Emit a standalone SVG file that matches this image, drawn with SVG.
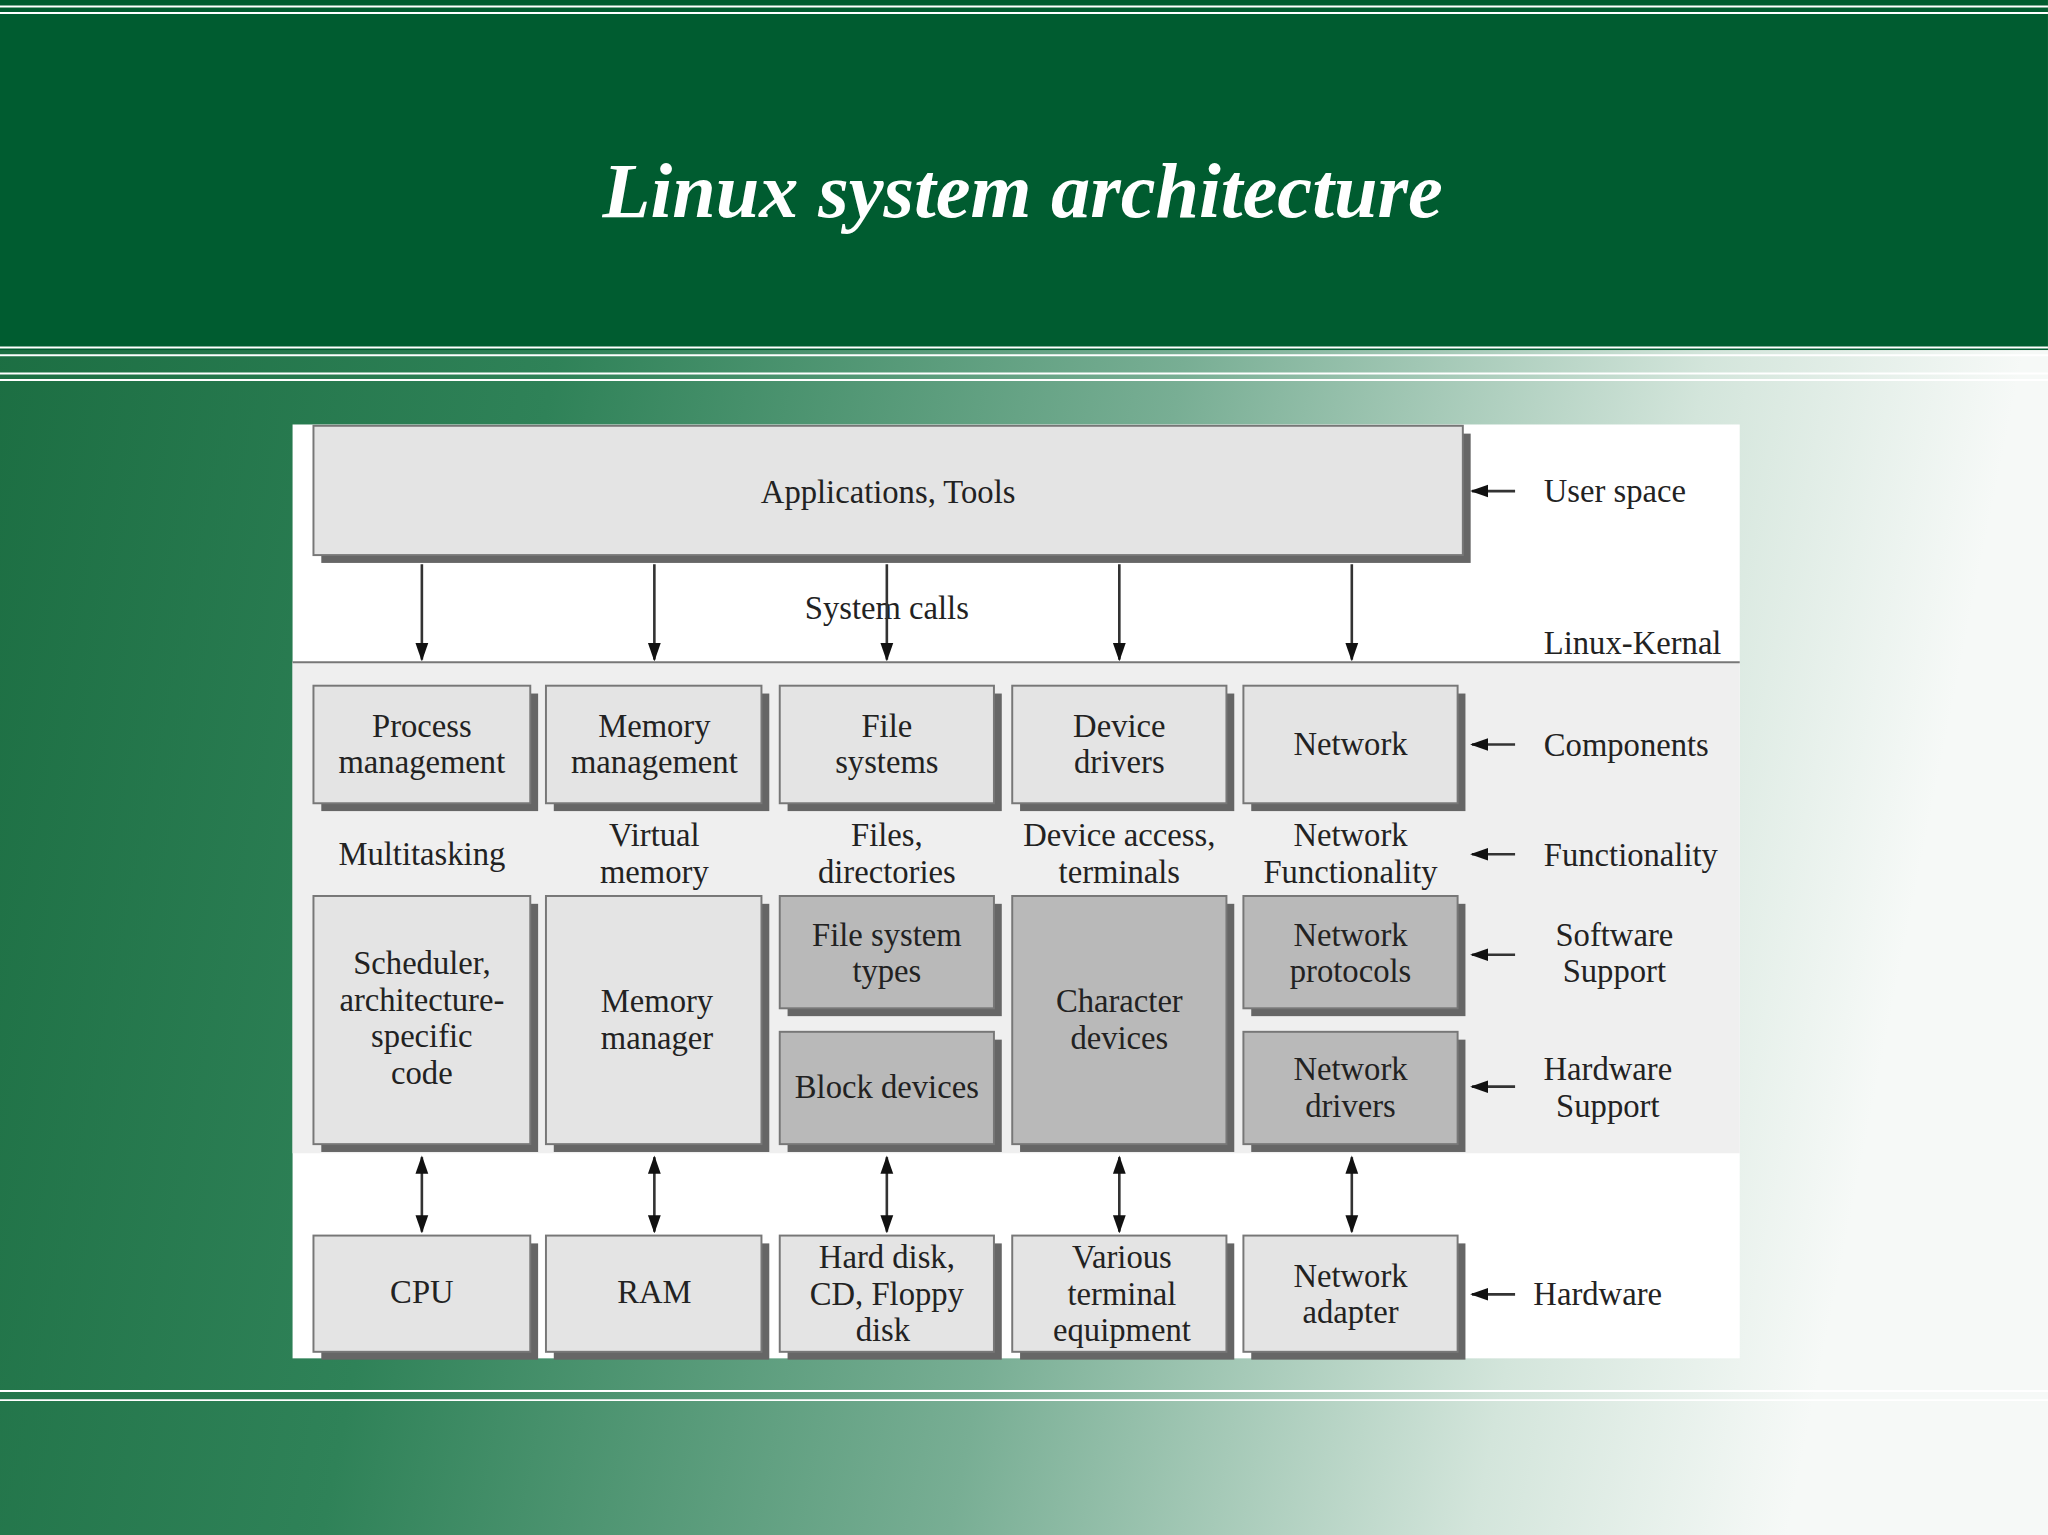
<svg xmlns="http://www.w3.org/2000/svg" width="2048" height="1535" viewBox="0 0 2048 1535">
<defs>
<linearGradient id="bg" x1="0" y1="0" x2="1" y2="0.15">
<stop offset="0" stop-color="#1a6c40"/><stop offset="0.3" stop-color="#2f8258"/><stop offset="0.6" stop-color="#78ae94"/><stop offset="0.85" stop-color="#d3e5db"/><stop offset="1" stop-color="#f6f9f7"/>
</linearGradient>
<marker id="ah2" viewBox="0 0 10 10" refX="9" refY="5" markerWidth="7" markerHeight="7" orient="auto-start-reverse"><path d="M0,1.5 L10,5 L0,8.5 z" fill="#111"/></marker>
<style>
.t{font-family:"Liberation Serif",serif;font-size:25px;fill:#222;text-anchor:middle}
.r{font-family:"Liberation Serif",serif;font-size:25px;fill:#222}
.b{fill:#e4e4e4;stroke:#777;stroke-width:1.5}
.d{fill:#b9b9b9;stroke:#777;stroke-width:1.5}
.sh{fill:#666}
.c line{stroke:#333;stroke-width:2}
</style>
</defs>
<g transform="scale(1.3061)">
<rect x="0" y="0" width="1568" height="1176" fill="url(#bg)"/>
<rect x="0" y="0" width="1568" height="268" fill="#005c30"/>
<g stroke="#fff" stroke-width="1.5" fill="none">
<line x1="0" y1="5" x2="1568" y2="5"/><line x1="0" y1="10" x2="1568" y2="10"/>
<line x1="0" y1="266" x2="1568" y2="266"/><line x1="0" y1="272" x2="1568" y2="272"/>
<line x1="0" y1="286" x2="1568" y2="286"/><line x1="0" y1="291" x2="1568" y2="291"/>
<line x1="0" y1="1065" x2="1568" y2="1065"/><line x1="0" y1="1072" x2="1568" y2="1072"/>
</g>
<text x="783" y="166" font-family="Liberation Serif,serif" font-size="60" font-style="italic" font-weight="bold" fill="#fff" text-anchor="middle">Linux system architecture</text>
<rect x="224" y="325" width="1108" height="715" fill="#fff"/>
<rect x="224" y="507" width="1108" height="376" fill="#efefef"/>
<line x1="224" y1="507" x2="1332" y2="507" stroke="#777" stroke-width="1.5"/>

<g id="apps"><rect class="sh" x="246" y="332" width="880" height="99"/><rect class="b" x="240" y="326" width="880" height="99"/><text class="t" x="680" y="385">Applications, Tools</text></g>

<g id="pm"><rect class="sh" x="246" y="531" width="166" height="90"/><rect class="b" x="240" y="525" width="166" height="90"/><text class="t" x="323" y="564">Process</text><text class="t" x="323" y="592">management</text></g>
<g id="mm"><rect class="sh" x="424" y="531" width="165" height="90"/><rect class="b" x="418" y="525" width="165" height="90"/><text class="t" x="501" y="564">Memory</text><text class="t" x="501" y="592">management</text></g>
<g id="fs"><rect class="sh" x="603" y="531" width="164" height="90"/><rect class="b" x="597" y="525" width="164" height="90"/><text class="t" x="679" y="564">File</text><text class="t" x="679" y="592">systems</text></g>
<g id="dd"><rect class="sh" x="781" y="531" width="164" height="90"/><rect class="b" x="775" y="525" width="164" height="90"/><text class="t" x="857" y="564">Device</text><text class="t" x="857" y="592">drivers</text></g>
<g id="net"><rect class="sh" x="958" y="531" width="164" height="90"/><rect class="b" x="952" y="525" width="164" height="90"/><text class="t" x="1034" y="578">Network</text></g>

<text class="t" x="323" y="662">Multitasking</text>
<text class="t" x="501" y="648">Virtual</text><text class="t" x="501" y="676">memory</text>
<text class="t" x="679" y="648">Files,</text><text class="t" x="679" y="676">directories</text>
<text class="t" x="857" y="648">Device access,</text><text class="t" x="857" y="676">terminals</text>
<text class="t" x="1034" y="648">Network</text><text class="t" x="1034" y="676">Functionality</text>

<g id="sched"><rect class="sh" x="246" y="692" width="166" height="190"/><rect class="b" x="240" y="686" width="166" height="190"/><text class="t" x="323" y="746">Scheduler,</text><text class="t" x="323" y="774">architecture-</text><text class="t" x="323" y="802">specific</text><text class="t" x="323" y="830">code</text></g>
<g id="mmgr"><rect class="sh" x="424" y="692" width="165" height="190"/><rect class="b" x="418" y="686" width="165" height="190"/><text class="t" x="503" y="775">Memory</text><text class="t" x="503" y="803">manager</text></g>
<g id="fst"><rect class="sh" x="603" y="692" width="164" height="86"/><rect class="d" x="597" y="686" width="164" height="86"/><text class="t" x="679" y="724">File system</text><text class="t" x="679" y="752">types</text></g>
<g id="blk"><rect class="sh" x="603" y="796" width="164" height="86"/><rect class="d" x="597" y="790" width="164" height="86"/><text class="t" x="679" y="841">Block devices</text></g>
<g id="chr"><rect class="sh" x="781" y="692" width="164" height="190"/><rect class="d" x="775" y="686" width="164" height="190"/><text class="t" x="857" y="775">Character</text><text class="t" x="857" y="803">devices</text></g>
<g id="np"><rect class="sh" x="958" y="692" width="164" height="86"/><rect class="d" x="952" y="686" width="164" height="86"/><text class="t" x="1034" y="724">Network</text><text class="t" x="1034" y="752">protocols</text></g>
<g id="nd"><rect class="sh" x="958" y="796" width="164" height="86"/><rect class="d" x="952" y="790" width="164" height="86"/><text class="t" x="1034" y="827">Network</text><text class="t" x="1034" y="855">drivers</text></g>

<g id="cpu"><rect class="sh" x="246" y="952" width="166" height="89"/><rect class="b" x="240" y="946" width="166" height="89"/><text class="t" x="323" y="998">CPU</text></g>
<g id="ram"><rect class="sh" x="424" y="952" width="165" height="89"/><rect class="b" x="418" y="946" width="165" height="89"/><text class="t" x="501" y="998">RAM</text></g>
<g id="hdd"><rect class="sh" x="603" y="952" width="164" height="89"/><rect class="b" x="597" y="946" width="164" height="89"/><text class="t" x="679" y="971">Hard disk,</text><text class="t" x="679" y="999">CD, Floppy</text><text class="t" x="676" y="1027">disk</text></g>
<g id="term"><rect class="sh" x="781" y="952" width="164" height="89"/><rect class="b" x="775" y="946" width="164" height="89"/><text class="t" x="859" y="971">Various</text><text class="t" x="859" y="999">terminal</text><text class="t" x="859" y="1027">equipment</text></g>
<g id="nad"><rect class="sh" x="958" y="952" width="164" height="89"/><rect class="b" x="952" y="946" width="164" height="89"/><text class="t" x="1034" y="985">Network</text><text class="t" x="1034" y="1013">adapter</text></g>

<text class="t" x="679" y="474">System calls</text>

<g class="c">
<line x1="323" y1="432" x2="323" y2="505" marker-end="url(#ah2)"/>
<line x1="501" y1="432" x2="501" y2="505" marker-end="url(#ah2)"/>
<line x1="679" y1="432" x2="679" y2="505" marker-end="url(#ah2)"/>
<line x1="857" y1="432" x2="857" y2="505" marker-end="url(#ah2)"/>
<line x1="1035" y1="432" x2="1035" y2="505" marker-end="url(#ah2)"/>
<line x1="323" y1="886" x2="323" y2="943" marker-start="url(#ah2)" marker-end="url(#ah2)"/>
<line x1="501" y1="886" x2="501" y2="943" marker-start="url(#ah2)" marker-end="url(#ah2)"/>
<line x1="679" y1="886" x2="679" y2="943" marker-start="url(#ah2)" marker-end="url(#ah2)"/>
<line x1="857" y1="886" x2="857" y2="943" marker-start="url(#ah2)" marker-end="url(#ah2)"/>
<line x1="1035" y1="886" x2="1035" y2="943" marker-start="url(#ah2)" marker-end="url(#ah2)"/>
<line x1="1160" y1="376" x2="1127" y2="376" marker-end="url(#ah2)"/>
<line x1="1160" y1="570" x2="1127" y2="570" marker-end="url(#ah2)"/>
<line x1="1160" y1="654" x2="1127" y2="654" marker-end="url(#ah2)"/>
<line x1="1160" y1="731" x2="1127" y2="731" marker-end="url(#ah2)"/>
<line x1="1160" y1="832" x2="1127" y2="832" marker-end="url(#ah2)"/>
<line x1="1160" y1="991" x2="1127" y2="991" marker-end="url(#ah2)"/>
</g>

<text class="r" x="1182" y="384">User space</text>
<text class="r" x="1182" y="501">Linux-Kernal</text>
<text class="r" x="1182" y="579">Components</text>
<text class="r" x="1182" y="663">Functionality</text>
<text class="t" x="1236" y="724">Software</text><text class="t" x="1236" y="752">Support</text>
<text class="t" x="1231" y="827">Hardware</text><text class="t" x="1231" y="855">Support</text>
<text class="r" x="1174" y="999">Hardware</text>
</g>
</svg>
